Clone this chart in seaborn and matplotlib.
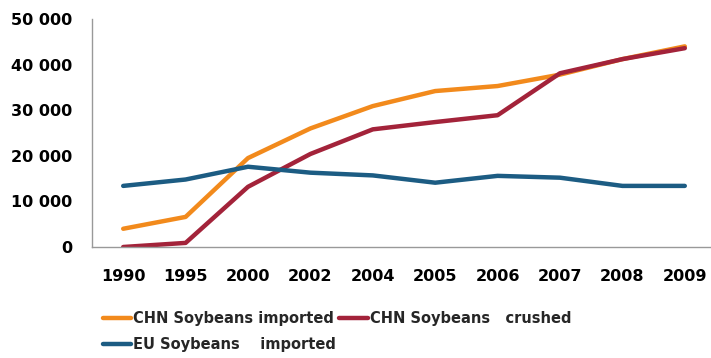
import matplotlib
matplotlib.use("Agg")
import matplotlib.pyplot as plt
import seaborn as sns
import pandas as pd

years = ["1990", "1995", "2000", "2002", "2004", "2005", "2006", "2007", "2008", "2009"]
chn_imported = [4000, 6600, 19500, 26000, 30900, 34200, 35300, 37800, 41200, 44000]
chn_crushed = [0, 900, 13200, 20400, 25800, 27400, 28900, 38100, 41200, 43600]
eu_imported = [13400, 14800, 17600, 16300, 15700, 14100, 15600, 15200, 13400, 13400]

labels = ["CHN Soybeans imported", "CHN Soybeans   crushed", "EU Soybeans    imported"]
colors = ["#F28A1C", "#A3233A", "#1C5C83"]

df = pd.DataFrame({"year": years * 3,
                   "value": chn_imported + chn_crushed + eu_imported,
                   "series": [labels[0]] * 10 + [labels[1]] * 10 + [labels[2]] * 10})
df["pos"] = list(range(len(years))) * 3

sns.set_theme(style="white")
plt.rcParams['font.family'] = ['DejaVu Sans']

fig = plt.figure(figsize=(7.11, 3.58), dpi=100)
ax = fig.add_axes([92 / 711, 1 - 247 / 358, (711 - 92) / 711, (247 - 19) / 358])

sns.lineplot(data=df, x="pos", y="value", hue="series", palette=colors,
             hue_order=labels, linewidth=3.2, ax=ax, legend=False, sort=False)

ax.set_xlim(-0.5, 9.42)
ax.set_ylim(0, 50000)
ax.set_xticks(range(len(years)))
ax.set_xticklabels(years)
ax.set_yticks([0, 10000, 20000, 30000, 40000, 50000])
ax.set_yticklabels(["0", "10 000", "20 000", "30 000", "40 000", "50 000"])
ax.set_xlabel("")
ax.set_ylabel("")
for lab in ax.get_xticklabels() + ax.get_yticklabels():
    lab.set_fontweight("bold")
    lab.set_fontsize(11.5)
    lab.set_color("black")
ax.tick_params(axis="x", length=0, pad=16)
ax.tick_params(axis="y", length=0, pad=14)
for s in ["top", "right"]:
    ax.spines[s].set_visible(False)
for s in ["left", "bottom"]:
    ax.spines[s].set_color("#999999")
    ax.spines[s].set_linewidth(1.0)

handles = [plt.Line2D([], [], color=c, linewidth=3.2) for c in colors]
order = [0, 2, 1]
leg = fig.legend([handles[i] for i in order], [labels[i] for i in order],
                 loc="upper left", bbox_to_anchor=(97 / 711, 1 - 305 / 358),
                 ncol=2, frameon=False, handlelength=1.95, handletextpad=0.15,
                 columnspacing=0.2, labelspacing=0.75, borderaxespad=0,
                 prop={"weight": "bold", "size": 10.5})

fig.savefig("out.png", dpi=100)
